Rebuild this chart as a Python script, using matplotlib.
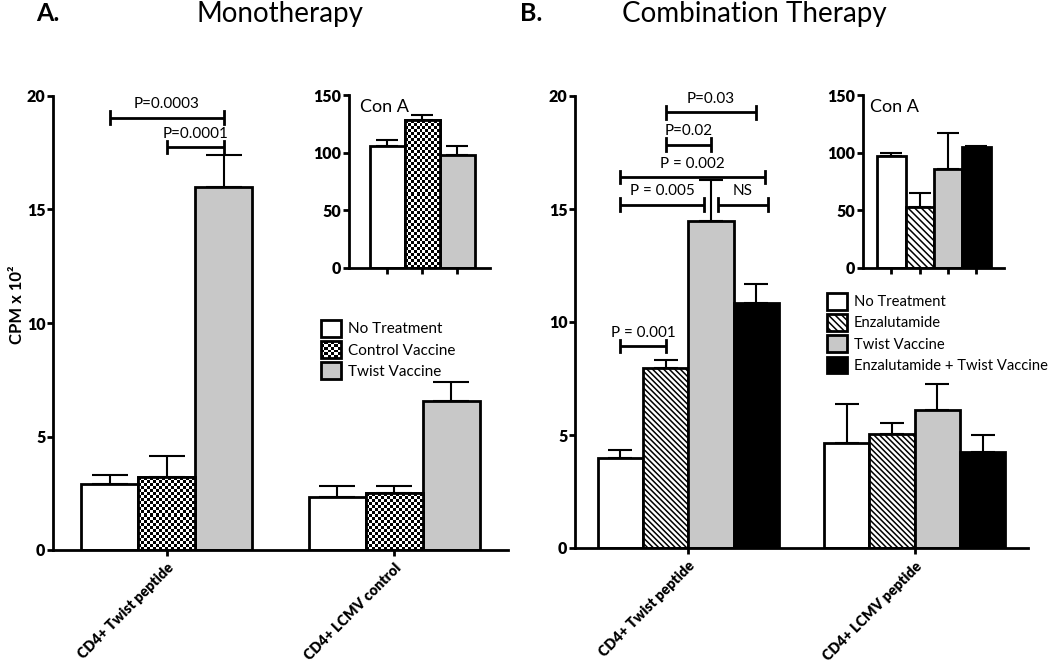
import numpy as np
import matplotlib
matplotlib.use("Agg")
import matplotlib.pyplot as plt
from matplotlib.patches import Patch, Rectangle
from matplotlib.legend_handler import HandlerBase

plt.rcParams['font.family'] = ['Lato', 'DejaVu Sans']
plt.rcParams['hatch.linewidth'] = 1.1

# ---------------- data ----------------
groupsA = ["CD4+ Twist peptide", "CD4+ LCMV control"]
seriesA = ["No Treatment", "Control Vaccine", "Twist Vaccine"]
meanA = [[2.9, 2.35], [3.2, 2.5], [16.0, 6.55]]       # per series, per group
semA = [[0.42, 0.45], [0.95, 0.3], [1.38, 0.85]]
conA_mean_A = [106, 128, 98]
conA_sem_A = [5, 5, 8]

groupsB = ["CD4+ Twist peptide", "CD4+ LCMV peptide"]
seriesB = ["No Treatment", "Enzalutamide", "Twist Vaccine", "Enzalutamide + Twist Vaccine"]
meanB = [[4.0, 4.65], [7.95, 5.05], [14.45, 6.1], [10.85, 4.25]]
semB = [[0.33, 1.7], [0.35, 0.5], [1.85, 1.15], [0.85, 0.75]]
conA_mean_B = [97, 53, 86, 105]
conA_sem_B = [2.5, 12, 31, 1]

# brackets: (x_left, x_right, y, label)
bracketsA = [(-0.25, 0.25, 19.05, "P=0.0003"), (0.0, 0.25, 17.75, "P=0.0001")]
bracketsB = [(-0.1, 0.3, 19.27, "P=0.03"), (-0.1, 0.1, 17.85, "P=0.02"),
             (-0.3, 0.34, 16.42, "P = 0.002"), (-0.3, 0.07, 15.19, "P = 0.005"),
             (0.13, 0.35, 15.19, "NS"), (-0.3, -0.1, 8.94, "P = 0.001")]

yticks_main = [0, 5, 10, 15, 20]
yticks_inset = [0, 50, 100, 150]

GREY = "#c8c8c8"
HATCH_MAIN = '\\' * 6
HATCH_INSET = '\\' * 5
W, H = 1050, 661
fig = plt.figure(figsize=(W / 100, H / 100), dpi=100)

LW = 2.0


class CheckerHandle:
    pass


class HandlerChecker(HandlerBase):
    def create_artists(self, legend, orig_handle, xdescent, ydescent, width, height, fontsize, trans):
        n = 6
        arts = [Rectangle((-xdescent, -ydescent), width, height, facecolor='white',
                          edgecolor='none', transform=trans)]
        cw, ch = width / n, height / n
        for i in range(n):
            for j in range(n):
                if (i + j) % 2 == 0:
                    arts.append(Rectangle((-xdescent + i * cw, -ydescent + j * ch), cw, ch,
                                          facecolor='k', edgecolor='none', transform=trans))
        arts.append(Rectangle((-xdescent, -ydescent), width, height, facecolor='none',
                              edgecolor='k', lw=LW, transform=trans))
        return arts


def style_axes(ax, xlim, ylim, yticks, xticks, xlabels=None, fs=11.5):
    for s in ['top', 'right']:
        ax.spines[s].set_visible(False)
    for s in ['left', 'bottom']:
        ax.spines[s].set_linewidth(LW)
    ax.set_xlim(*xlim)
    ax.set_ylim(*ylim)
    ax.set_yticks(yticks)
    ax.set_xticks(xticks)
    if xlabels is None:
        ax.set_xticklabels([])
    else:
        ax.set_xticklabels(xlabels, rotation=45, ha='right', rotation_mode='anchor',
                           fontsize=10.3, fontweight='heavy')
    ax.tick_params(width=LW, length=4.5, direction='out')
    ax.tick_params(axis='y', labelsize=fs, pad=1)
    for t in ax.get_yticklabels():
        t.set_fontweight('heavy')


def checker_fill(ax, bars, cell=3.0):
    fig.canvas.draw()
    for b in bars:
        x0, y0 = b.get_x(), b.get_y()
        x1, y1 = x0 + b.get_width(), y0 + b.get_height()
        p0 = ax.transData.transform((x0, y0))
        p1 = ax.transData.transform((x1, y1))
        nx = max(1, int(round(abs(p1[0] - p0[0]) / cell)))
        ny = max(1, int(round(abs(p1[1] - p0[1]) / cell)))
        arr = np.add.outer(np.arange(ny), np.arange(nx)) % 2
        im = ax.imshow(arr, cmap='gray', extent=(x0, x1, y0, y1), aspect='auto',
                       interpolation='nearest', zorder=2.1, vmin=0, vmax=1)
        im.set_clip_path(b)


def draw_bars(ax, means, sems, width, offsets, styles, capsize, xpos):
    checker = []
    for k, (m, s) in enumerate(zip(means, sems)):
        x = np.asarray(xpos, dtype=float) + offsets[k]
        st = styles[k]
        ax.errorbar(x, m, yerr=[np.zeros(len(m)), s], fmt='none', ecolor='k',
                    elinewidth=1.5, capsize=capsize, capthick=1.5, zorder=1)
        bars = ax.bar(x, m, width, facecolor=st.get('fc', 'white'), edgecolor='k',
                      linewidth=LW, hatch=st.get('hatch'), zorder=2)
        if st.get('checker'):
            checker.append((bars, x, m))
    return checker


def brackets(ax, items, tick=0.28, fs=11):
    for xl, xr, y, lab in items:
        ax.plot([xl, xr], [y, y], color='k', lw=LW, solid_capstyle='butt', zorder=4)
        ax.plot([xl, xl], [y - tick, y + tick], color='k', lw=LW, zorder=4)
        ax.plot([xr, xr], [y - tick, y + tick], color='k', lw=LW, zorder=4)
        ax.text((xl + xr) / 2, y + 0.28, lab, ha='center', va='bottom', fontsize=fs)


stylesA = [dict(fc='white'), dict(fc='white', checker=True), dict(fc=GREY)]
stylesB = [dict(fc='white'), dict(fc='white', hatch=HATCH_MAIN), dict(fc=GREY), dict(fc='black')]

# ---------------- Panel A main ----------------
axA = fig.add_axes([53 / W, 1 - 550 / H, 455 / W, 454 / H])
xA = np.arange(len(groupsA))
wA = 0.25
offA = [-wA, 0, wA]
chkA = draw_bars(axA, meanA, semA, wA, offA, stylesA, 13, xA)
style_axes(axA, (-0.5, 1.5), (0, 20), yticks_main, xA, groupsA)
brackets(axA, bracketsA)

# ---------------- Panel A inset ----------------
inA = fig.add_axes([349 / W, 1 - 268 / H, 141 / W, 173 / H])
xiA = np.arange(len(conA_mean_A))
chkIA = []
for i in range(len(conA_mean_A)):
    st = stylesA[i]
    inA.errorbar([xiA[i]], [conA_mean_A[i]], yerr=[[0], [conA_sem_A[i]]], fmt='none', ecolor='k',
                 elinewidth=1.5, capsize=8, capthick=1.5, zorder=1)
    b = inA.bar([xiA[i]], [conA_mean_A[i]], 1.0, facecolor=st.get('fc', 'white'), edgecolor='k',
                linewidth=LW, zorder=2)
    if st.get('checker'):
        chkIA.append((b, [xiA[i]], [conA_mean_A[i]]))
style_axes(inA, (-1.09, 2.94), (0, 150), yticks_inset, xiA)
inA.text(0.08, 0.93, "Con A", transform=inA.transAxes, fontsize=13, va='center', ha='left')

# ---------------- Panel B main ----------------
axB = fig.add_axes([575 / W, 1 - 548 / H, 453 / W, 452 / H])
xB = np.arange(len(groupsB))
wB = 0.2
offB = [-1.5 * wB, -0.5 * wB, 0.5 * wB, 1.5 * wB]
draw_bars(axB, meanB, semB, wB, offB, stylesB, 8.5, xB)
style_axes(axB, (-0.5, 1.5), (0, 20), yticks_main, xB, groupsB)
brackets(axB, bracketsB)

# ---------------- Panel B inset ----------------
inB = fig.add_axes([863 / W, 1 - 268 / H, 141 / W, 173 / H])
xiB = np.arange(len(conA_mean_B))
for i in range(len(conA_mean_B)):
    st = stylesB[i]
    inB.errorbar([xiB[i]], [conA_mean_B[i]], yerr=[[0], [conA_sem_B[i]]], fmt='none', ecolor='k',
                 elinewidth=1.5, capsize=8, capthick=1.5, zorder=1)
    inB.bar([xiB[i]], [conA_mean_B[i]], 1.0, facecolor=st.get('fc', 'white'), edgecolor='k',
            linewidth=LW, hatch=(HATCH_INSET if st.get('hatch') else None), zorder=2)
style_axes(inB, (-1.0, 3.97), (0, 150), yticks_inset, xiB)
inB.text(0.05, 0.93, "Con A", transform=inB.transAxes, fontsize=13, va='center', ha='left')

# ---------------- checker fills ----------------
for bars, x, m in chkA:
    checker_fill(axA, list(bars))
    axA.bar(x, m, wA, fill=False, edgecolor='k', linewidth=LW, zorder=2.2)
for bars, x, m in chkIA:
    checker_fill(inA, list(bars), cell=3.0)
    inA.bar(x, m, 1.0, fill=False, edgecolor='k', linewidth=LW, zorder=2.2)
axA.set_xlim(-0.5, 1.5); axA.set_ylim(0, 20)
inA.set_xlim(-1.09, 2.94); inA.set_ylim(0, 150)

# ---------------- legends ----------------
hA = [Patch(facecolor='white', edgecolor='k', lw=LW), CheckerHandle(),
      Patch(facecolor=GREY, edgecolor='k', lw=LW)]
legA = axA.legend(hA, seriesA, loc='upper left', bbox_to_anchor=(321 / W, 1 - 320 / H),
                  bbox_transform=fig.transFigure, frameon=False, fontsize=11,
                  handlelength=1.3, handleheight=1.3, handletextpad=0.45, labelspacing=0.3,
                  borderpad=0, borderaxespad=0, handler_map={CheckerHandle: HandlerChecker()})

hB = [Patch(facecolor='white', edgecolor='k', lw=LW),
      Patch(facecolor='white', edgecolor='k', lw=LW, hatch=HATCH_INSET),
      Patch(facecolor=GREY, edgecolor='k', lw=LW),
      Patch(facecolor='black', edgecolor='k', lw=LW)]
legB = axB.legend(hB, seriesB, loc='upper left', bbox_to_anchor=(827 / W, 1 - 293 / H),
                  bbox_transform=fig.transFigure, frameon=False, fontsize=10.6,
                  handlelength=1.35, handleheight=1.35, handletextpad=0.45, labelspacing=0.32,
                  borderpad=0, borderaxespad=0)

# ---------------- titles / labels ----------------
fig.text(36 / W, 1 - 21 / H, "A.", fontsize=18, fontweight='bold', va='baseline', ha='left')
fig.text(520 / W, 1 - 21 / H, "B.", fontsize=18, fontweight='bold', va='baseline', ha='left')
fig.text(280 / W, 1 - 22 / H, "Monotherapy", fontsize=20, va='baseline', ha='center')
fig.text(754 / W, 1 - 22 / H, "Combination Therapy", fontsize=20, va='baseline', ha='center')
fig.text(17 / W, 1 - 305 / H, "CPM x 10²", rotation=90, fontsize=12, fontweight='bold',
         ha='center', va='center')

fig.savefig("out.png", dpi=100)
